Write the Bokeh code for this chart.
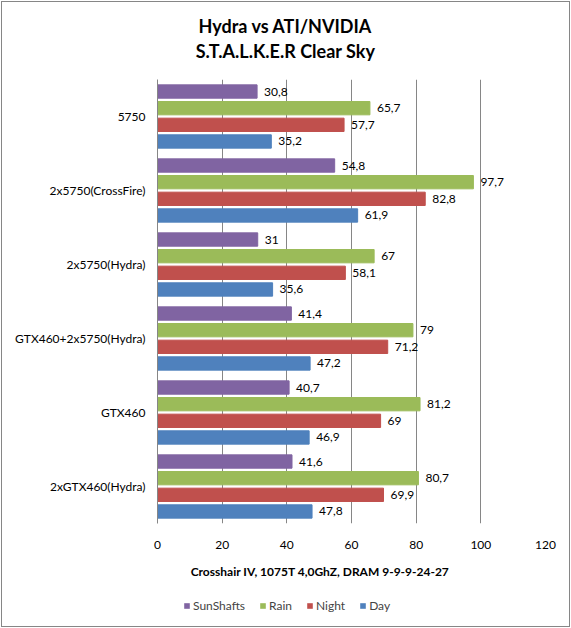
from bokeh.plotting import figure
from bokeh.layouts import column
from bokeh.models import (ColumnDataSource, FactorRange, Range1d, Label, Legend,
                          LegendItem, FixedTicker)
from bokeh.transform import dodge
from bokeh.core.properties import value
from bokeh.embed import file_html
from bokeh.resources import INLINE

title_line1 = "Hydra vs ATI/NVIDIA"
title_line2 = "S.T.A.L.K.E.R Clear Sky"
x_title = "Crosshair IV, 1075T 4,0GhZ, DRAM  9-9-9-24-27"

categories = ["5750", "2x5750(CrossFire)", "2x5750(Hydra)",
              "GTX460+2x5750(Hydra)", "GTX460", "2xGTX460(Hydra)"]
series = ["SunShafts", "Rain", "Night", "Day"]
sunshafts = [30.8, 54.8, 31, 41.4, 40.7, 41.6]
rain = [65.7, 97.7, 67, 79, 81.2, 80.7]
night = [57.7, 82.8, 58.1, 71.2, 69, 69.9]
day = [35.2, 61.9, 35.6, 47.2, 46.9, 47.8]
colors = ["#8064A2", "#9BBB59", "#C0504D", "#4F81BD"]
x_ticks = [0, 20, 40, 60, 80, 100, 120]

FONT = "Lato"


def fmt(v):
    return f"{v:g}".replace(".", ",")


data = dict(cat=categories, SunShafts=sunshafts, Rain=rain, Night=night, Day=day)
for s in series:
    data[s + "_lbl"] = [fmt(v) for v in data[s]]
src = ColumnDataSource(data)


def strip(h):
    f = figure(width=567, height=h, y_range=FactorRange(factors=categories[::-1]),
               x_range=Range1d(0, 120), output_backend="svg",
               toolbar_location=None, min_border=0)
    f.xaxis.visible = False
    f.yaxis.visible = False
    f.grid.grid_line_color = None
    f.outline_line_color = None
    return f


# title strip
tf = strip(77)
tf.add_layout(Label(x=128, y=54, x_units="screen", y_units="screen",
                    text=title_line1, text_align="center", text_baseline="middle",
                    text_font=FONT, text_font_size="18px", text_font_style="bold",
                    text_color="#000000"))
tf.add_layout(Label(x=128, y=29, x_units="screen", y_units="screen",
                    text=title_line2, text_align="center", text_baseline="middle",
                    text_font=FONT, text_font_size="18px", text_font_style="bold",
                    text_color="#000000"))

# main chart
p = figure(width=567, height=479,
           y_range=FactorRange(factors=categories[::-1]),
           x_range=Range1d(0, 120),
           output_backend="svg", toolbar_location=None,
           min_border_left=155, min_border_right=24,
           min_border_top=0, min_border_bottom=35)
p.outline_line_color = None

offsets = [0.3375, 0.1125, -0.1125, -0.3375]
for s, c, off in zip(series, colors, offsets):
    p.hbar(y=dodge("cat", off, range=p.y_range), left=0, right=s,
           height=0.18, color=c, source=src)
    p.text(x=s, y=dodge("cat", off, range=p.y_range), text=s + "_lbl",
           source=src, x_offset=7, text_align="left", text_baseline="middle",
           text_font=value(FONT), text_font_size="12px", text_color="#000000")

p.xaxis.ticker = FixedTicker(ticks=x_ticks)
p.xaxis.axis_line_color = None
p.xaxis.major_tick_line_color = None
p.xaxis.minor_tick_line_color = None
p.xaxis.major_label_standoff = 11
p.xaxis.major_label_text_font = FONT
p.xaxis.major_label_text_font_size = "12px"
p.xaxis.major_label_text_color = "#000000"

p.yaxis.axis_line_color = "#868686"
p.yaxis.major_tick_line_color = None
p.yaxis.minor_tick_line_color = None
p.yaxis.major_label_standoff = 6
p.yaxis.major_label_text_font = FONT
p.yaxis.major_label_text_font_size = "12px"
p.yaxis.major_label_text_color = "#000000"

p.xgrid.grid_line_color = "#868686"
p.xgrid.ticker = FixedTicker(ticks=x_ticks)
p.ygrid.grid_line_color = None

# axis title + legend strip
lf = strip(68)
lf.add_layout(Label(x=164, y=55, x_units="screen", y_units="screen",
                    text=x_title, text_align="center", text_baseline="middle",
                    text_font=FONT, text_font_size="12px", text_font_style="bold",
                    text_color="#000000"))
items = []
for s, c, off in zip(series, colors, offsets):
    r = lf.hbar(y=dodge("cat", off, range=lf.y_range), left=0, right=s,
                height=0, fill_color=c, line_color=None, source=src)
    items.append(LegendItem(label=s, renderers=[r]))
legend = Legend(items=items, orientation="horizontal", location=(26, 13),
                glyph_width=7, glyph_height=7, label_standoff=3, spacing=14,
                label_text_font=FONT, label_text_font_size="12px",
                border_line_color=None, background_fill_alpha=0,
                padding=2, margin=0)
lf.add_layout(legend, "center")

layout = column(tf, p, lf, spacing=0)
layout.styles = {"margin-left": "2px", "margin-top": "2px",
                 "outline": "1px solid #868686"}

open("out.html", "w").write(file_html(layout, INLINE))
